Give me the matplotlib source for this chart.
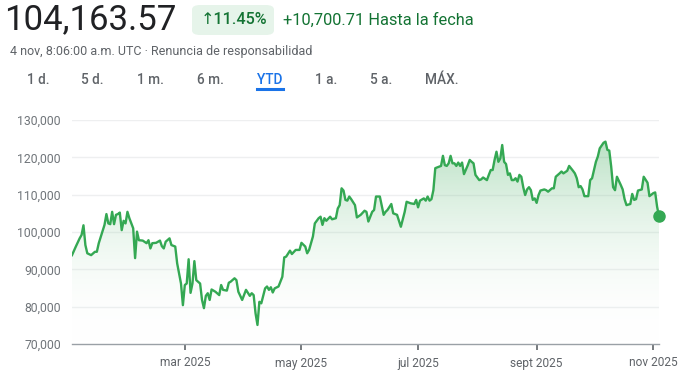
import numpy as np
import pandas as pd
import matplotlib
matplotlib.use("Agg")
from matplotlib import pyplot as plt
from matplotlib.patches import FancyBboxPatch
from matplotlib.colors import LinearSegmentedColormap

plt.rcParams['font.family'] = ['Roboto', 'DejaVu Sans']

# days since 2025-01-01 and price in thousands
days = [0, 2, 4, 5, 6, 7, 8, 10, 12, 13, 14, 17, 18, 19, 20, 21, 22, 23, 24, 25,
        26, 27, 28, 29, 30, 32, 33, 34, 35, 37, 39, 40, 41, 42, 44, 46, 47, 48, 49, 51,
        52, 54, 55, 57, 58, 59, 60, 61, 62, 63, 64, 65, 67, 68, 69, 70, 71, 72, 73, 75,
        77, 78, 79, 81, 82, 83, 85, 86, 87, 89, 91, 93, 94, 95, 96, 97, 98, 99, 101, 102,
        103, 104, 105, 106, 108, 110, 111, 112, 114, 115, 117, 119, 120, 122, 123, 124, 126, 127, 129, 130,
        131, 132, 133, 135, 136, 138, 139, 140, 141, 142, 143, 144, 145, 146, 148, 149, 151, 153, 154, 155,
        157, 158, 159, 161, 163, 164, 165, 167, 168, 170, 171, 172, 174, 175, 177, 179, 180, 181, 182, 184,
        185, 186, 187, 188, 189, 190, 192, 193, 194, 195, 196, 197, 198, 199, 200, 201, 202, 203, 204, 205,
        207, 208, 209, 210, 211, 213, 214, 215, 217, 218, 219, 220, 221, 222, 223, 224, 225, 226, 227, 228,
        229, 230, 231, 232, 233, 234, 235, 236, 237, 238, 239, 240, 241, 242, 243, 244, 245, 247, 248, 249,
        251, 252, 253, 255, 256, 257, 259, 260, 262, 263, 264, 265, 266, 267, 268, 270, 271, 272, 274, 275,
        276, 278, 279, 280, 281, 282, 283, 284, 285, 287, 288, 289, 290, 292, 293, 294, 295, 296, 298, 299,
        301, 302, 304, 305, 306, 307]
price_k = [93.8, 96.1, 98.3, 99.2, 101.8, 96.5, 94.3, 93.8, 94.7, 94.7, 97.0, 101.9, 104.8, 102.3, 102.1, 105.4, 102.1, 104.6, 104.8, 105.2,
           100.5, 103.0, 102.3, 105.4, 103.7, 101.0, 93.0, 100.1, 97.8, 97.7, 97.0, 97.8, 95.6, 97.0, 97.1, 97.7, 96.2, 95.6, 97.4, 98.3,
           96.5, 96.1, 91.6, 86.2, 80.4, 85.8, 86.2, 92.7, 83.7, 86.2, 92.2, 87.1, 86.2, 81.8, 79.6, 82.9, 83.6, 81.8, 84.6, 84.0,
           83.1, 85.8, 84.5, 84.3, 86.4, 86.7, 87.6, 87.1, 84.0, 81.8, 84.5, 82.9, 83.6, 83.1, 78.2, 75.1, 81.3, 80.9, 84.9, 85.4,
           84.5, 85.2, 83.8, 84.9, 85.4, 88.0, 93.2, 93.4, 95.0, 94.1, 95.2, 95.2, 97.1, 96.1, 94.3, 95.2, 98.8, 102.3, 103.7, 104.1,
           101.9, 103.7, 103.0, 104.1, 103.4, 103.7, 106.3, 107.2, 111.7, 111.1, 108.6, 108.4, 109.5, 108.8, 107.2, 103.9, 104.6, 105.7, 105.4, 102.8,
           105.4, 105.9, 109.5, 109.5, 104.6, 105.4, 105.9, 107.5, 105.0, 104.6, 103.0, 101.4, 105.4, 108.1, 107.7, 107.5, 108.6, 106.6, 108.4, 109.0,
           108.4, 109.5, 108.4, 108.8, 111.2, 117.1, 117.5, 117.7, 120.4, 117.9, 117.7, 118.4, 120.4, 118.4, 118.4, 117.7, 118.6, 117.7, 118.6, 115.5,
           117.9, 119.3, 118.8, 118.4, 115.3, 113.9, 114.1, 114.6, 113.9, 115.3, 116.6, 116.6, 119.3, 121.5, 118.8, 119.7, 123.3, 118.8, 118.2, 115.3,
           115.7, 113.9, 113.9, 114.4, 113.5, 115.3, 114.8, 112.0, 109.9, 111.4, 112.0, 111.2, 108.6, 109.0, 107.8, 109.9, 111.1, 111.4, 111.2, 110.8,
           111.7, 111.7, 114.8, 115.7, 116.2, 115.7, 116.4, 117.7, 116.4, 115.7, 114.4, 112.0, 112.3, 111.4, 109.6, 109.6, 113.9, 114.4, 118.8, 120.2,
           122.4, 123.9, 124.2, 122.0, 121.8, 117.5, 112.0, 111.2, 114.8, 112.6, 111.4, 108.8, 107.2, 107.5, 110.2, 108.6, 108.8, 111.1, 111.4, 114.8,
           113.2, 109.6, 110.4, 110.6, 106.8, 104.16]

month_ticks = ["2025-03-01", "2025-05-01", "2025-07-01", "2025-09-01", "2025-11-01"]
month_labels = ["mar 2025", "may 2025", "jul 2025", "sept 2025", "nov 2025"]
y_ticks = [70000, 80000, 90000, 100000, 110000, 120000, 130000]
tabs = ["1 d.", "5 d.", "1 m.", "6 m.", "YTD", "1 a.", "5 a.", "MÁX."]
tab_x = [38, 92, 150, 210, 270, 326, 381, 442]

GREEN = "#34a853"
W, H = 692, 384

x = np.array(days)
y = np.array(price_k) * 1000
start = pd.Timestamp("2025-01-01")
tick_pos = [(pd.Timestamp(d) - start).days for d in month_ticks]

fig = plt.figure(figsize=(W / 100, H / 100), dpi=100)
ax = fig.add_axes([72 / W, 1 - 344 / H, (659 - 72) / W, (344 - 120) / H])
ax.set_xlim(0, 307)
ax.set_ylim(70000, 130000)

# gradient fill under the line
cmap = LinearSegmentedColormap.from_list("g", [(1, 1, 1, 0), (0.204, 0.659, 0.325, 0.36)])
grad = np.linspace(0, 1, 256).reshape(-1, 1)
img = ax.imshow(grad, cmap=cmap, origin="lower", aspect="auto",
                extent=[0, 307, 70000, 126000], zorder=1)
poly = ax.fill_between(x, y, 70000, color="none")
img.set_clip_path(poly.get_paths()[0], transform=ax.transData)

ax.plot(x, y, color=GREEN, lw=1.7, zorder=3, solid_joinstyle="round")
ax.plot(x[-1], y[-1], "o", color=GREEN, ms=8, zorder=4, clip_on=False)

for s in ["top", "right", "left"]:
    ax.spines[s].set_visible(False)
ax.spines["bottom"].set_color("#9aa0a6")
ax.spines["bottom"].set_linewidth(1)

ax.set_yticks(y_ticks)
ax.set_yticklabels(["{:,}".format(v) for v in y_ticks])
ax.tick_params(axis="y", length=0, pad=8, labelsize=8.8, labelcolor="#70757a")
for v in y_ticks[1:]:
    ax.axhline(v, color="#eeeff0", lw=1, zorder=0)

ax.set_xticks(tick_pos)
ax.set_xticklabels(month_labels)
ax.tick_params(axis="x", length=4, width=1.2, color="#5f6368", pad=5,
               labelsize=8.6, labelcolor="#5f6368")

# header
def px(xp, yp):
    return xp / W, 1 - yp / H

fig.text(*px(4, 20), "104,163.57", fontsize=25, color="#202124", va="center", ha="left")
badge = FancyBboxPatch((192 / W, 1 - 35 / H), 82 / W, 30 / H,
                       boxstyle="round,pad=0,rounding_size=0.012",
                       transform=fig.transFigure, facecolor="#e6f4ea", edgecolor="none")
fig.patches.append(badge)
fig.text(*px(234, 20), "↑11.45%", fontsize=11.6, color="#137333", ha="center", va="center",
         fontweight="medium")
fig.text(*px(283, 20), "+10,700.71 Hasta la fecha", fontsize=11.8, color="#137333",
         ha="left", va="center")
fig.text(*px(10, 51), "4 nov, 8:06:00 a.m. UTC · Renuncia de responsabilidad", fontsize=9,
         color="#5f6368", ha="left", va="center")

for label, tx in zip(tabs, tab_x):
    col = "#1a73e8" if label == "YTD" else "#5f6368"
    fig.text(*px(tx, 80), label, fontsize=9.8, color=col, ha="center", va="center",
             fontweight="medium")
fig.add_artist(plt.Line2D([257 / W, 283 / W], [1 - 89 / H, 1 - 89 / H],
                          transform=fig.transFigure, color="#1a73e8", lw=2.2))

fig.savefig("out.png", dpi=100)
